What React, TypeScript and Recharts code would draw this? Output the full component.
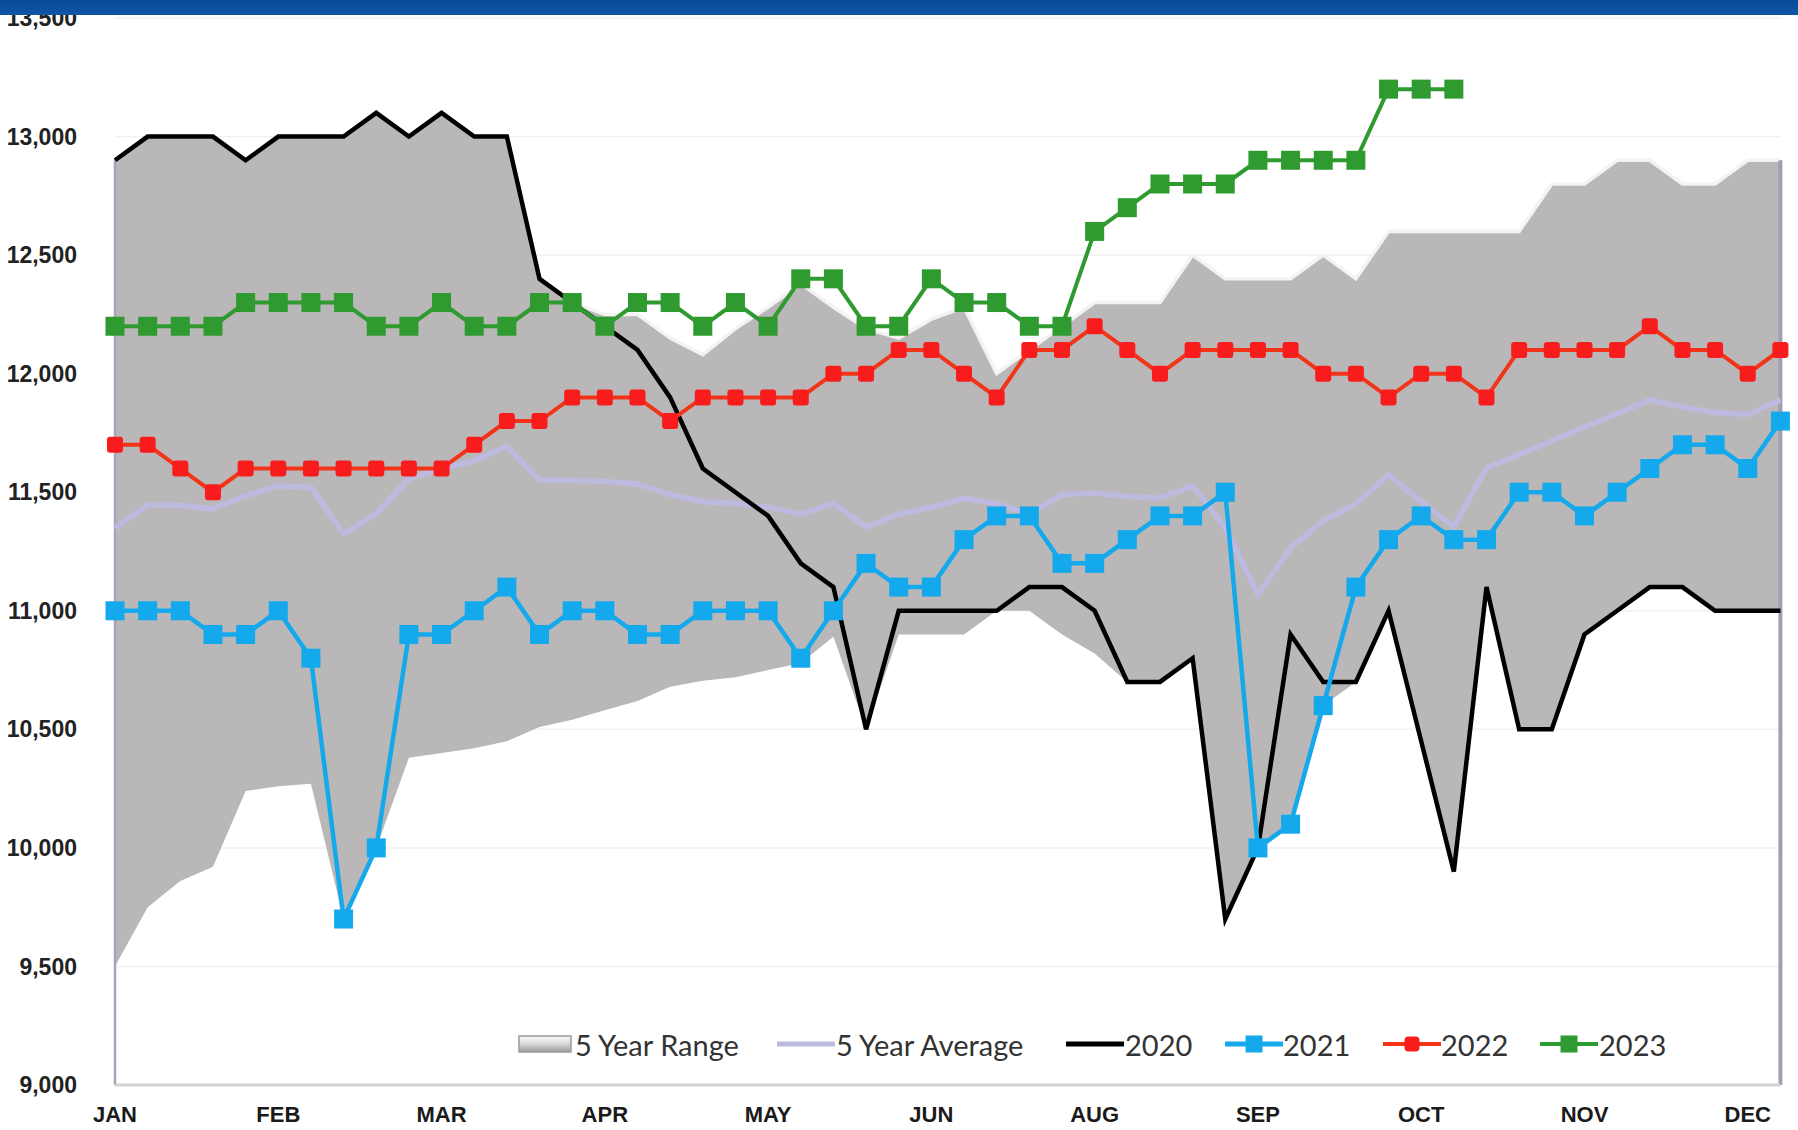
import React from 'react';
import { ComposedChart, Area, Line, XAxis, YAxis, CartesianGrid, ReferenceLine } from 'recharts';

const monthTicks = ['JAN', 'FEB', 'MAR', 'APR', 'MAY', 'JUN', 'AUG', 'SEP', 'OCT', 'NOV', 'DEC'];
const tickWeeks = [0, 5, 10, 15, 20, 25, 30, 35, 40, 45, 50];
const yTicks = [9000, 9500, 10000, 10500, 11000, 11500, 12000, 12500, 13000, 13500];

const rangeUpper = [
  12900, 13000, 13000, 13000, 12900, 13000, 13000, 13000, 13100, 13000, 13100, 13000, 13000,
  12400, 12300, 12250, 12250, 12150, 12080, 12190, 12280, 12380, 12280, 12190, 12150, 12230,
  12280, 12000, 12100, 12200, 12300, 12300, 12300, 12500, 12400, 12400, 12400, 12500, 12400,
  12600, 12600, 12600, 12600, 12600, 12800, 12800, 12900, 12900, 12800, 12800, 12900, 12900,
];
const rangeLower = [
  9500, 9750, 9860, 9920, 10240, 10260, 10270, 9700, 10000, 10380, 10400, 10420, 10450,
  10510, 10540, 10580, 10620, 10680, 10705, 10720, 10750, 10780, 10890, 10500, 10900, 10900,
  10900, 11000, 11000, 10900, 10820, 10700, 10700, 10800, 9700, 10000, 10100, 10600, 10700,
  11000, 10450, 9900, 11100, 10500, 10500, 10900, 11000, 11100, 11100, 11000, 11000, 11000,
];
const avg5 = [
  11350, 11445, 11445, 11430, 11485, 11527, 11520, 11325, 11410, 11557, 11600, 11633, 11693,
  11550, 11550, 11545, 11535, 11490, 11460, 11452, 11437, 11407, 11452, 11354, 11407, 11437,
  11474, 11452, 11407, 11490, 11497, 11482, 11475, 11527, 11350, 11068, 11264, 11380, 11450,
  11574, 11459, 11354, 11602, 11658, 11717, 11775, 11831, 11889, 11859, 11836, 11828, 11889,
];
const y2020 = [
  12900, 13000, 13000, 13000, 12900, 13000, 13000, 13000, 13100, 13000, 13100, 13000, 13000,
  12400, 12300, 12200, 12100, 11900, 11600, 11500, 11400, 11200, 11100, 10500, 11000, 11000,
  11000, 11000, 11100, 11100, 11000, 10700, 10700, 10800, 9700, 10000, 10900, 10700, 10700,
  11000, 10450, 9900, 11100, 10500, 10500, 10900, 11000, 11100, 11100, 11000, 11000, 11000,
];
const y2021 = [
  11000, 11000, 11000, 10900, 10900, 11000, 10800, 9700, 10000, 10900, 10900, 11000, 11100,
  10900, 11000, 11000, 10900, 10900, 11000, 11000, 11000, 10800, 11000, 11200, 11100, 11100,
  11300, 11400, 11400, 11200, 11200, 11300, 11400, 11400, 11500, 10000, 10100, 10600, 11100,
  11300, 11400, 11300, 11300, 11500, 11500, 11400, 11500, 11600, 11700, 11700, 11600, 11800,
];
const y2022 = [
  11700, 11700, 11600, 11500, 11600, 11600, 11600, 11600, 11600, 11600, 11600, 11700, 11800,
  11800, 11900, 11900, 11900, 11800, 11900, 11900, 11900, 11900, 12000, 12000, 12100, 12100,
  12000, 11900, 12100, 12100, 12200, 12100, 12000, 12100, 12100, 12100, 12100, 12000, 12000,
  11900, 12000, 12000, 11900, 12100, 12100, 12100, 12100, 12200, 12100, 12100, 12000, 12100,
];
const y2023 = [
  12200, 12200, 12200, 12200, 12300, 12300, 12300, 12300, 12200, 12200, 12300, 12200, 12200,
  12300, 12300, 12200, 12300, 12300, 12200, 12300, 12200, 12400, 12400, 12200, 12200, 12400,
  12300, 12300, 12200, 12200, 12600, 12700, 12800, 12800, 12800, 12900, 12900, 12900, 12900,
  13200, 13200, 13200,
];

const data = rangeUpper.map((u, i) => ({
  wk: i,
  range: [rangeLower[i], u],
  upper: u,
  avg: avg5[i],
  y2020: y2020[i],
  y2021: y2021[i],
  y2022: y2022[i],
  y2023: i < y2023.length ? y2023[i] : null,
}));

const C2020 = '#000000';
const C2021 = '#14a9ec';
const C2022 = '#f23418';
const C2022M = '#f81c1c';
const C2023 = '#2f9a2f';
const CAVG = '#bdbae0';
const CRANGE = '#bab7b8';

const squareDot = (size: number, fill: string, rx = 0) => (props: any) => {
  const { cx, cy, index, value } = props;
  if (cx == null || cy == null || value == null || Number.isNaN(cx) || Number.isNaN(cy)) {
    return <g key={`e${index}`} />;
  }
  return (
    <rect
      key={`d${index}`}
      x={cx - size / 2}
      y={cy - size / 2}
      width={size}
      height={size}
      rx={rx}
      fill={fill}
    />
  );
};

const legendFont = 'Lato, "Noto Sans", sans-serif';

const LegendMarkerLine = ({ color, width = 5, marker, markerSize = 16, rx = 0 }: any) => (
  <svg width={58} height={24} style={{ display: 'block' }}>
    <line x1={0} y1={12} x2={58} y2={12} stroke={color} strokeWidth={width} />
    {marker ? (
      <rect x={29 - markerSize / 2} y={12 - markerSize / 2} width={markerSize} height={markerSize} rx={rx} fill={marker} />
    ) : null}
  </svg>
);

const legendItems = [
  { left: 518, textLeft: 575, label: '5 Year Range', kind: 'range' },
  { left: 777, textLeft: 836, label: '5 Year Average', kind: 'avg' },
  { left: 1066, textLeft: 1125, label: '2020', kind: '2020' },
  { left: 1225, textLeft: 1283, label: '2021', kind: '2021' },
  { left: 1383, textLeft: 1441, label: '2022', kind: '2022' },
  { left: 1540, textLeft: 1599, label: '2023', kind: '2023' },
];

const LegendIcon = ({ kind }: { kind: string }) => {
  if (kind === 'range') {
    return (
      <svg width={54} height={24} style={{ display: 'block' }}>
        <defs>
          <linearGradient id="rg" x1="0" y1="0" x2="0" y2="1">
            <stop offset="0%" stopColor="#fbfbfb" />
            <stop offset="45%" stopColor="#dcdcdc" />
            <stop offset="100%" stopColor="#9d9d9d" />
          </linearGradient>
        </defs>
        <rect x={1} y={4} width={52} height={16} fill="url(#rg)" stroke="#9a9a9a" strokeWidth={1.5} />
      </svg>
    );
  }
  if (kind === 'avg') return <LegendMarkerLine color={CAVG} width={5} />;
  if (kind === '2020') return <LegendMarkerLine color={C2020} width={5} />;
  if (kind === '2021') return <LegendMarkerLine color={C2021} width={5} marker={C2021} markerSize={17} />;
  if (kind === '2022') return <LegendMarkerLine color={C2022} width={4} marker={C2022M} markerSize={15} rx={4} />;
  return <LegendMarkerLine color={C2023} width={4} marker={C2023} markerSize={17} />;
};

export default function App() {
  return (
    <div style={{ position: 'absolute', left: 0, top: 0, width: 1798, height: 1130, background: '#ffffff', overflow: 'hidden' }}>
      <ComposedChart
        width={1798}
        height={1130}
        data={data}
        margin={{ top: 18, right: 17.6, bottom: 0, left: 0 }}
      >
        <CartesianGrid vertical={false} stroke="#f1f1f1" strokeWidth={1.5} />
        <XAxis
          dataKey="wk"
          type="category"
          scale="point"
          padding={{ left: 0, right: 0 }}
          ticks={tickWeeks}
          interval={0}
          tickFormatter={(v: number) => monthTicks[Math.round(v / 5)] || ''}
          height={45}
          tickSize={0}
          tickMargin={21}
          tickLine={false}
          axisLine={{ stroke: '#d2d2d2', strokeWidth: 3 }}
          tick={{ fontFamily: '"Liberation Sans", Arial, sans-serif', fontSize: 22, fontWeight: 700, fill: '#1a1a1a' }}
        />
        <YAxis
          type="number"
          domain={[9000, 13500]}
          ticks={yTicks}
          interval={0}
          width={115}
          tickSize={0}
          tickMargin={38}
          axisLine={false}
          tickLine={false}
          tickFormatter={(v: number) => v.toLocaleString('en-US')}
          tick={{ fontFamily: '"Liberation Sans", Arial, sans-serif', fontSize: 23, fontWeight: 700, fill: '#222222' }}
        />
        <Area
          dataKey="range"
          type="linear"
          fill={CRANGE}
          fillOpacity={1}
          stroke="none"
          isAnimationActive={false}
          activeDot={false}
        />
        <Line
          dataKey="upper"
          type="linear"
          stroke="#f3f3f3"
          strokeWidth={3.5}
          dot={false}
          activeDot={false}
          isAnimationActive={false}
        />
        <ReferenceLine
          segment={[{ x: 0, y: 9000 }, { x: 0, y: rangeUpper[0] }]}
          stroke="#a6a4b6"
          strokeWidth={2.5}
        />
        <ReferenceLine
          segment={[{ x: rangeUpper.length - 1, y: 9000 }, { x: rangeUpper.length - 1, y: rangeUpper[rangeUpper.length - 1] }]}
          stroke="#a09eb2"
          strokeWidth={4}
        />
        <Line
          dataKey="avg"
          type="linear"
          stroke={CAVG}
          strokeWidth={5.5}
          dot={false}
          activeDot={false}
          isAnimationActive={false}
        />
        <Line
          dataKey="y2020"
          type="linear"
          stroke={C2020}
          strokeWidth={4.5}
          dot={false}
          activeDot={false}
          isAnimationActive={false}
        />
        <Line
          dataKey="y2021"
          type="linear"
          stroke={C2021}
          strokeWidth={4.5}
          dot={squareDot(19, C2021)}
          activeDot={false}
          isAnimationActive={false}
        />
        <Line
          dataKey="y2022"
          type="linear"
          stroke={C2022}
          strokeWidth={4}
          dot={squareDot(16, C2022M, 3)}
          activeDot={false}
          isAnimationActive={false}
        />
        <Line
          dataKey="y2023"
          type="linear"
          stroke={C2023}
          strokeWidth={4}
          dot={squareDot(19, C2023)}
          activeDot={false}
          connectNulls={false}
          isAnimationActive={false}
        />
      </ComposedChart>

      {legendItems.map((it) => (
        <React.Fragment key={it.kind}>
          <div style={{ position: 'absolute', left: it.left, top: 1032 }}>
            <LegendIcon kind={it.kind} />
          </div>
          <div
            style={{
              position: 'absolute',
              left: it.textLeft,
              top: 1027,
              height: 36,
              lineHeight: '36px',
              fontFamily: legendFont,
              fontSize: 29,
              color: '#333333',
              whiteSpace: 'nowrap',
            }}
          >
            {it.label}
          </div>
        </React.Fragment>
      ))}

      <div
        style={{
          position: 'absolute',
          left: 0,
          top: 0,
          width: 1798,
          height: 15,
          background: 'linear-gradient(#0a4c99, #0d56a6)',
        }}
      />
    </div>
  );
}
